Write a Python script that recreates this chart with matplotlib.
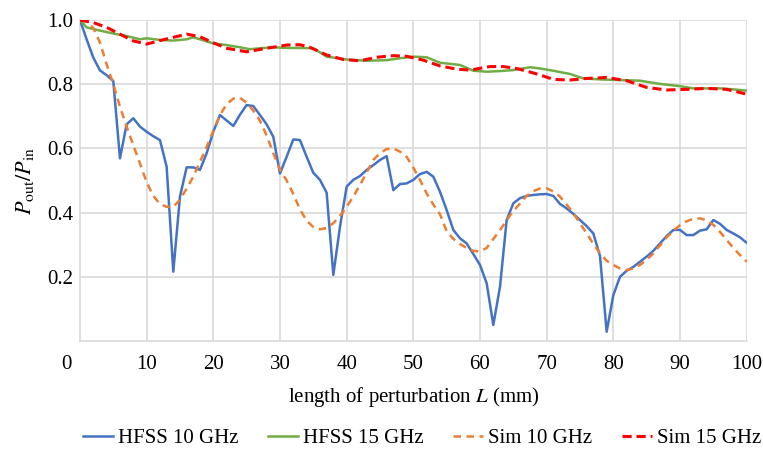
import matplotlib
matplotlib.use("Agg")
import matplotlib.pyplot as plt
import numpy as np

plt.rcParams['font.family'] = 'Liberation Serif'
plt.rcParams['mathtext.fontset'] = 'stix'
plt.rcParams['font.size'] = 15

# length of perturbation (mm), 1 mm steps
L = np.arange(0, 101)

hfss10 = [1.000, 0.940, 0.883, 0.843, 0.828, 0.810, 0.569, 0.675, 0.694, 0.668,
          0.652, 0.638, 0.626, 0.543, 0.216, 0.450, 0.541, 0.541, 0.533, 0.585,
          0.652, 0.704, 0.687, 0.670, 0.705, 0.735, 0.732, 0.704, 0.675, 0.636,
          0.522, 0.574, 0.628, 0.626, 0.574, 0.524, 0.502, 0.462, 0.206, 0.356,
          0.481, 0.502, 0.514, 0.533, 0.548, 0.564, 0.576, 0.470, 0.489, 0.491,
          0.502, 0.520, 0.527, 0.512, 0.465, 0.408, 0.346, 0.320, 0.304, 0.271,
          0.237, 0.180, 0.050, 0.169, 0.377, 0.429, 0.445, 0.452, 0.455, 0.457,
          0.458, 0.452, 0.427, 0.413, 0.396, 0.377, 0.358, 0.335, 0.265, 0.029,
          0.143, 0.200, 0.219, 0.231, 0.247, 0.263, 0.281, 0.304, 0.327, 0.346,
          0.346, 0.330, 0.330, 0.344, 0.348, 0.377, 0.365, 0.346, 0.335, 0.323,
          0.306]

sim10 = [1.000, 0.995, 0.975, 0.930, 0.862, 0.800, 0.730, 0.668, 0.610, 0.553,
         0.495, 0.452, 0.427, 0.418, 0.418, 0.440, 0.475, 0.512, 0.558, 0.605,
         0.655, 0.704, 0.738, 0.755, 0.758, 0.742, 0.718, 0.686, 0.640, 0.585,
         0.535, 0.500, 0.458, 0.410, 0.375, 0.355, 0.348, 0.352, 0.367, 0.390,
         0.418, 0.450, 0.486, 0.525, 0.564, 0.585, 0.598, 0.600, 0.590, 0.574,
         0.540, 0.502, 0.460, 0.425, 0.395, 0.342, 0.318, 0.302, 0.290, 0.281,
         0.279, 0.290, 0.318, 0.345, 0.377, 0.405, 0.428, 0.452, 0.467, 0.475,
         0.476, 0.466, 0.450, 0.425, 0.398, 0.367, 0.335, 0.303, 0.273, 0.250,
         0.237, 0.226, 0.221, 0.226, 0.237, 0.253, 0.273, 0.298, 0.323, 0.343,
         0.361, 0.373, 0.381, 0.382, 0.376, 0.362, 0.340, 0.315, 0.290, 0.268,
         0.247]

L15 = [0, 1, 3, 5, 7, 9, 10, 12, 14, 16, 17, 18, 20, 22, 24, 25.5, 27, 29, 31,
       33, 35, 37, 40, 43, 46, 48, 50, 52, 54, 57, 59, 61, 63, 65, 67.5, 69, 71,
       73.5, 75.5, 78, 81, 84, 87, 90, 92, 94, 96, 98, 100]
hfss15 = [1.000, 0.977, 0.967, 0.958, 0.950, 0.940, 0.943, 0.938, 0.936, 0.940,
          0.946, 0.940, 0.927, 0.922, 0.915, 0.909, 0.912, 0.915, 0.913, 0.913,
          0.912, 0.886, 0.877, 0.873, 0.875, 0.881, 0.886, 0.884, 0.867, 0.860,
          0.842, 0.839, 0.841, 0.844, 0.853, 0.849, 0.842, 0.832, 0.818, 0.815,
          0.813, 0.811, 0.801, 0.794, 0.787, 0.787, 0.787, 0.784, 0.780]

Ls15 = [0, 2, 4, 6, 8, 10, 12, 14, 16, 18, 20, 22, 25, 28, 31, 33, 34.5, 37,
        39.5, 42, 44.5, 47, 49, 51.5, 54, 56.5, 58.5, 61.5, 63.5, 65.5, 67.5,
        69, 71, 73.5, 76, 79, 82, 85, 88, 91, 94, 97, 100]
sim15 = [1.000, 0.992, 0.977, 0.956, 0.935, 0.925, 0.936, 0.946, 0.956, 0.948,
         0.929, 0.912, 0.901, 0.912, 0.922, 0.923, 0.915, 0.891, 0.877, 0.873,
         0.884, 0.889, 0.887, 0.875, 0.857, 0.847, 0.844, 0.855, 0.855, 0.849,
         0.838, 0.829, 0.815, 0.813, 0.818, 0.821, 0.811, 0.790, 0.782, 0.784,
         0.787, 0.784, 0.769]

fig, ax = plt.subplots(figsize=(7.63, 4.53), dpi=100)
fig.subplots_adjust(left=0.1048, right=0.9786, top=0.9558, bottom=0.2472)

ax.plot(L, hfss10, color='#4472C4', lw=1.8, label='HFSS 10 GHz', zorder=3)
ax.plot(L15, hfss15, color='#70AD47', lw=1.8, label='HFSS 15 GHz', zorder=3)
ax.plot(L, sim10, color='#ED7D31', lw=1.8, ls=(0, (3, 2.2)), label='Sim 10 GHz', zorder=4)
ax.plot(Ls15, sim15, color='#FF0000', lw=2.2, ls=(0, (3, 1.6)), label='Sim 15 GHz', zorder=4)

ax.set_xlim(0, 100)
ax.set_ylim(0, 1.0)
ax.set_xticks(np.arange(10, 101, 10))
ax.set_yticks([0.2, 0.4, 0.6, 0.8, 1.0])
ax.set_yticklabels(['0.2', '0.4', '0.6', '0.8', '1.0'])
# the "0" label sits a little left of the axis corner
ax.text(-2, -0.045, '0', ha='center', va='top', transform=ax.transData)
ax.tick_params(length=0, pad=10)
ax.tick_params(axis='y', pad=5)

ax.grid(True, color='#d9d9d9', lw=1.2)
for s in ax.spines.values():
    s.set_color('#d9d9d9')
    s.set_linewidth(1.2)
ax.spines['top'].set_visible(False)
ax.spines['right'].set_visible(False)
ax.set_axisbelow(True)

ax.set_xlabel(r'length of perturbation $L$ (mm)', labelpad=8)
ax.set_ylabel(r'$P_{\rm out}/P_{\rm in}$', labelpad=8, fontsize=16)

fig.legend(loc='center', bbox_to_anchor=(0.553, 0.033), ncol=4, frameon=False,
           handlelength=1.45, columnspacing=1.4, handletextpad=0.25)

fig.savefig('out.png', dpi=100)
